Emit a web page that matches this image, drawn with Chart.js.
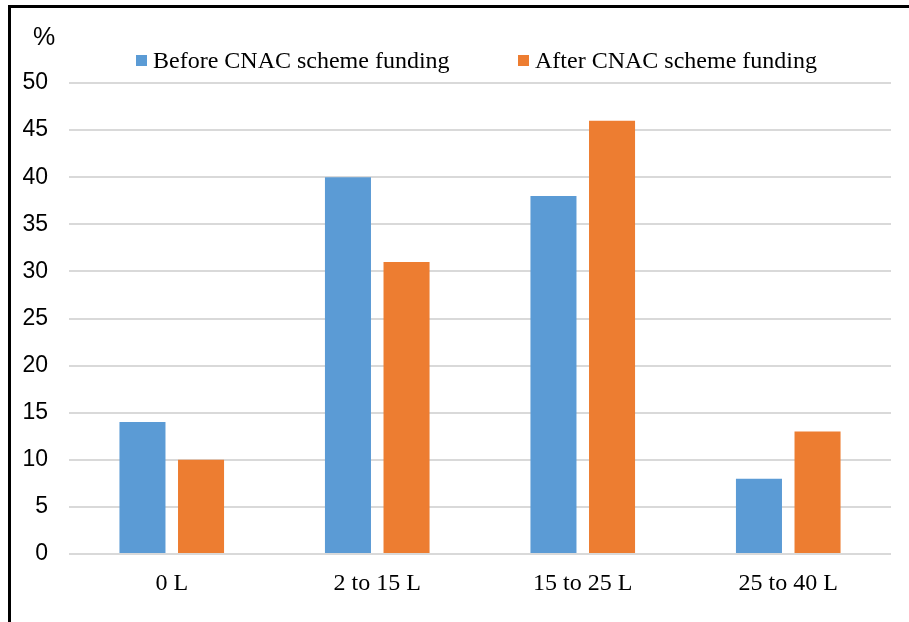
<!DOCTYPE html>
<html>
<head>
<meta charset="utf-8">
<script src="https://cdn.jsdelivr.net/npm/chart.js@4"></script>
<style>
  html, body { margin: 0; padding: 0; background: #fff; }
  #wrap { position: relative; width: 909px; height: 622px; }
  #frame { position: absolute; left: 8px; top: 5px; right: -10px; bottom: -10px;
           border-top: 3px solid #000; border-left: 3px solid #000; pointer-events: none; }
  canvas { position: absolute; left: 0; top: 0; }
</style>
</head>
<body>
<div id="wrap">
  <canvas id="c" width="909" height="622"></canvas>
  <div id="frame"></div>
</div>
<script>
const categories = ["0 L", "2 to 15 L", "15 to 25 L", "25 to 40 L"];
const seriesNames = ["Before CNAC scheme funding", "After CNAC scheme funding"];
const beforeValues = [14, 40, 38, 8];
const afterValues = [10, 31, 46, 13];
const yTicks = [0, 5, 10, 15, 20, 25, 30, 35, 40, 45, 50];
const yUnit = "%";

const BLUE = "#5B9BD5";
const ORANGE = "#ED7D31";

const overlay = {
  id: "overlay",
  afterDraw(chart) {
    const ctx = chart.ctx;
    ctx.save();
    // unit label
    ctx.fillStyle = "#000";
    ctx.font = "25px 'Liberation Sans', Arial, sans-serif";
    ctx.textAlign = "center";
    ctx.textBaseline = "middle";
    ctx.fillText(yUnit, 44, 38);
    // legend
    ctx.font = "24px 'Liberation Serif', 'Times New Roman', serif";
    ctx.textAlign = "left";
    ctx.textBaseline = "alphabetic";
    const starts = [136, 518];
    chart.data.datasets.forEach((ds, i) => {
      const x = starts[i];
      ctx.fillStyle = ds.backgroundColor;
      ctx.fillRect(x, 55, 11, 11);
      ctx.fillStyle = "#000";
      ctx.fillText(ds.label, x + 17, 68);
    });
    ctx.restore();
  }
};

new Chart(document.getElementById("c"), {
  type: "bar",
  data: {
    labels: categories,
    datasets: [
      { label: seriesNames[0], data: beforeValues, backgroundColor: BLUE,
        categoryPercentage: 0.57, barPercentage: 0.786 },
      { label: seriesNames[1], data: afterValues, backgroundColor: ORANGE,
        categoryPercentage: 0.57, barPercentage: 0.786 }
    ]
  },
  options: {
    responsive: false,
    animation: false,
    devicePixelRatio: 1,
    layout: { padding: { top: 83, right: 18, left: 0, bottom: 0 } },
    plugins: { legend: { display: false }, tooltip: { enabled: false } },
    scales: {
      x: {
        grid: { display: false, drawTicks: false },
        border: { display: false },
        ticks: {
          color: "#000",
          padding: 15,
          font: { family: "'Liberation Serif', 'Times New Roman', serif", size: 24 }
        },
        afterFit(scale) { scale.height = 68; }
      },
      y: {
        min: 0, max: 50,
        afterBuildTicks(scale) { scale.ticks = yTicks.map(v => ({ value: v })); },
        grid: { color: "#d9d9d9", lineWidth: 2, drawTicks: false },
        border: { display: false },
        ticks: {
          color: "#000",
          padding: 21,
          font: { family: "'Liberation Sans', Arial, sans-serif", size: 23 }
        },
        afterFit(scale) { scale.width = 69; }
      }
    }
  },
  plugins: [overlay]
});
</script>
</body>
</html>
